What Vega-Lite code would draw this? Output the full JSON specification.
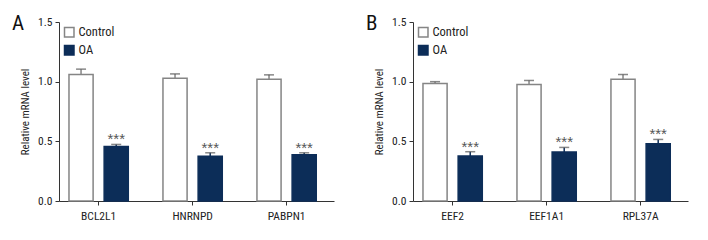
{
  "$schema": "https://vega.github.io/schema/vega-lite/v6.json",
  "padding": {"left": 12, "top": 12, "right": 5, "bottom": 5},
  "background": "white",
  "datasets": {
    "all": [
      {"panel": "A", "gene": "BCL2L1", "group": "Control", "value": 1.06, "upper": 1.105, "sig": ""},
      {"panel": "A", "gene": "BCL2L1", "group": "OA", "value": 0.457, "upper": 0.474, "sig": "***"},
      {"panel": "A", "gene": "HNRNPD", "group": "Control", "value": 1.029, "upper": 1.065, "sig": ""},
      {"panel": "A", "gene": "HNRNPD", "group": "OA", "value": 0.374, "upper": 0.404, "sig": "***"},
      {"panel": "A", "gene": "PABPN1", "group": "Control", "value": 1.021, "upper": 1.057, "sig": ""},
      {"panel": "A", "gene": "PABPN1", "group": "OA", "value": 0.387, "upper": 0.404, "sig": "***"},
      {"panel": "B", "gene": "EEF2", "group": "Control", "value": 0.985, "upper": 1.0, "sig": ""},
      {"panel": "B", "gene": "EEF2", "group": "OA", "value": 0.377, "upper": 0.413, "sig": "***"},
      {"panel": "B", "gene": "EEF1A1", "group": "Control", "value": 0.976, "upper": 1.01, "sig": ""},
      {"panel": "B", "gene": "EEF1A1", "group": "OA", "value": 0.41, "upper": 0.449, "sig": "***"},
      {"panel": "B", "gene": "RPL37A", "group": "Control", "value": 1.021, "upper": 1.06, "sig": ""},
      {"panel": "B", "gene": "RPL37A", "group": "OA", "value": 0.48, "upper": 0.516, "sig": "***"}
    ]
  },
  "spacing": 32,
  "resolve": {
    "scale": {"fill": "independent", "stroke": "independent", "x": "independent", "y": "independent"},
    "legend": {"fill": "independent", "stroke": "independent"}
  },
  "hconcat": [
    {
      "width": 275,
      "height": 179,
      "data": {"name": "all"},
      "transform": [{"filter": "datum.panel == 'A'"}],
      "title": {"text": "A", "anchor": "start", "frame": "group", "dx": -47, "offset": -17.5, "baseline": "top", "fontSize": 21, "fontWeight": "normal", "color": "#111"},
      "encoding": {
        "x": {"field": "gene", "type": "nominal", "sort": ["BCL2L1", "HNRNPD", "PABPN1"],
              "scale": {"paddingInner": 0.369, "paddingOuter": 0.1475, "align": 0.36},
              "axis": {"title": null, "labelAngle": 0, "labelPadding": 5}},
        "xOffset": {"field": "group", "type": "nominal", "sort": ["Control", "OA"], "scale": {"paddingInner": 0.314, "paddingOuter": 0}}
      },
      "layer": [
        {
          "mark": {"type": "bar", "strokeWidth": 1.5},
          "encoding": {
            "y": {"field": "value", "type": "quantitative", "scale": {"domain": [0, 1.5], "nice": false},
                  "axis": {"title": "Relative mRNA level", "values": [0, 0.5, 1, 1.5], "format": ".1f"}},
            "fill": {"field": "group", "type": "nominal", "sort": ["Control", "OA"], "scale": {"domain": ["Control", "OA"], "range": ["#ffffff", "#0c2d58"]}, "legend": {"title": null}},
            "stroke": {"field": "group", "type": "nominal", "sort": ["Control", "OA"], "scale": {"domain": ["Control", "OA"], "range": ["#858585", "#0c2d58"]}, "legend": {"title": null}}
          }
        },
        {
          "mark": {"type": "rule", "strokeWidth": 1.5},
          "encoding": {
            "y": {"field": "value", "type": "quantitative"},
            "y2": {"field": "upper"},
            "stroke": {"field": "group", "type": "nominal", "sort": ["Control", "OA"], "legend": null}
          }
        },
        {
          "mark": {"type": "tick", "thickness": 1.5},
          "encoding": {
            "y": {"field": "upper", "type": "quantitative"},
            "size": {"value": 10},
            "color": {"value": "#555"}
          }
        },
        {
          "mark": {"type": "text", "font": "Liberation Sans", "fontSize": 15, "baseline": "alphabetic", "dy": 0, "color": "#555"},
          "encoding": {
            "y": {"field": "upper", "type": "quantitative"},
            "text": {"field": "sig"}
          }
        }
      ]
    },
    {
      "width": 275,
      "height": 179,
      "data": {"name": "all"},
      "transform": [{"filter": "datum.panel == 'B'"}],
      "title": {"text": "B", "anchor": "start", "frame": "group", "dx": -47, "offset": -17.5, "baseline": "top", "fontSize": 21, "fontWeight": "normal", "color": "#111"},
      "encoding": {
        "x": {"field": "gene", "type": "nominal", "sort": ["EEF2", "EEF1A1", "RPL37A"],
              "scale": {"paddingInner": 0.369, "paddingOuter": 0.1475, "align": 0.36},
              "axis": {"title": null, "labelAngle": 0, "labelPadding": 5}},
        "xOffset": {"field": "group", "type": "nominal", "sort": ["Control", "OA"], "scale": {"paddingInner": 0.314, "paddingOuter": 0}}
      },
      "layer": [
        {
          "mark": {"type": "bar", "strokeWidth": 1.5},
          "encoding": {
            "y": {"field": "value", "type": "quantitative", "scale": {"domain": [0, 1.5], "nice": false},
                  "axis": {"title": "Relative mRNA level", "values": [0, 0.5, 1, 1.5], "format": ".1f"}},
            "fill": {"field": "group", "type": "nominal", "sort": ["Control", "OA"], "scale": {"domain": ["Control", "OA"], "range": ["#ffffff", "#0c2d58"]}, "legend": {"title": null}},
            "stroke": {"field": "group", "type": "nominal", "sort": ["Control", "OA"], "scale": {"domain": ["Control", "OA"], "range": ["#858585", "#0c2d58"]}, "legend": {"title": null}}
          }
        },
        {
          "mark": {"type": "rule", "strokeWidth": 1.5},
          "encoding": {
            "y": {"field": "value", "type": "quantitative"},
            "y2": {"field": "upper"},
            "stroke": {"field": "group", "type": "nominal", "sort": ["Control", "OA"], "legend": null}
          }
        },
        {
          "mark": {"type": "tick", "thickness": 1.5},
          "encoding": {
            "y": {"field": "upper", "type": "quantitative"},
            "size": {"value": 10},
            "color": {"value": "#555"}
          }
        },
        {
          "mark": {"type": "text", "font": "Liberation Sans", "fontSize": 15, "baseline": "alphabetic", "dy": 0, "color": "#555"},
          "encoding": {
            "y": {"field": "upper", "type": "quantitative"},
            "text": {"field": "sig"}
          }
        }
      ]
    }
  ],
  "config": {
    "view": {"stroke": null},
    "font": "Roboto Condensed, DejaVu Sans Condensed, Roboto",
    "title": {"font": "Roboto Condensed, DejaVu Sans Condensed, Roboto"},
    "axis": {
      "grid": false, "domainColor": "#333", "tickColor": "#333", "tickSize": 4, "domainWidth": 1, "tickWidth": 1,
      "labelFont": "Roboto Condensed, DejaVu Sans Condensed, Roboto", "labelFontSize": 11.5, "labelColor": "#222", "labelPadding": 3,
      "titleFont": "Roboto Condensed, DejaVu Sans Condensed, Roboto", "titleFontSize": 11, "titleFontWeight": "normal", "titleColor": "#222", "titlePadding": 7
    },
    "legend": {
      "orient": "top-left", "offset": 4, "padding": 0, "symbolType": "square", "symbolSize": 90, "symbolStrokeWidth": 1.5,
      "labelFont": "Roboto Condensed, DejaVu Sans Condensed, Roboto", "labelFontSize": 12.5, "labelColor": "#222", "rowPadding": 2, "labelOffset": 3
    }
  }
}
